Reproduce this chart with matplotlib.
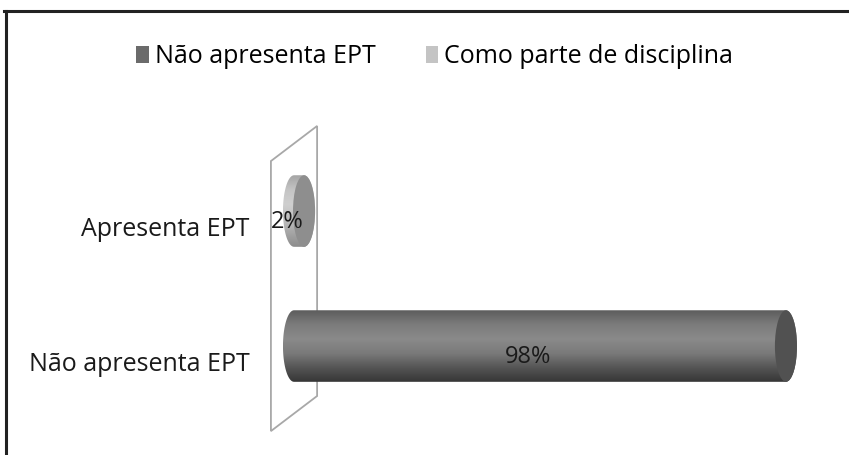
import matplotlib
matplotlib.use("Agg")
import matplotlib.pyplot as plt
import numpy as np
from matplotlib.path import Path
from matplotlib.patches import PathPatch, Ellipse, Polygon, Patch
from matplotlib.colors import LinearSegmentedColormap
from matplotlib.lines import Line2D

plt.rcParams['font.family'] = ['Open Sans', 'DejaVu Sans']

# ---- data ----
categories = ["Não apresenta EPT", "Apresenta EPT"]
series_names = ["Não apresenta EPT", "Como parte de disciplina"]
nao_apresenta = [98, 0]
como_parte = [0, 2]
series_values = [nao_apresenta, como_parte]
value_labels = ["98%", "2%"]

# ---- style ----
body_colors = [
    ["#5c5c5c", "#7c7c7c", "#8a8a8a", "#7a7a7a", "#555555", "#363636"],
    ["#a4a4a4", "#c4c4c4", "#cfcfcf", "#c0c0c0", "#a6a6a6", "#8c8c8c"],
]
end_colors = ["#515151", "#8e8e8e"]
legend_colors = ["#6b6b6b", "#c4c4c4"]
FS = 18

fig = plt.figure(figsize=(8.49, 4.55), dpi=100)
ax = fig.add_axes([0, 0, 1, 1])
ax.set_xlim(-58.57, 110.56)
ax.set_ylim(-0.807, 2.563)
ax.axis('off')

bar_h = 0.53     # in category units
cap_hw = 2.2     # half width of the cylinder caps, value units
depth_dx, depth_dy = 4.6, 0.13

# back wall (category axis plane)
lo, hi = -0.5, len(categories) - 0.5
wall = Polygon([(-depth_dx, lo - depth_dy), (-depth_dx, hi - depth_dy),
                (depth_dx, hi + depth_dy), (depth_dx, lo + depth_dy)],
               closed=True, fill=False, edgecolor="#a8a8a8", lw=1.3, zorder=1)
ax.add_patch(wall)

def cylinder(ax, v, y, colors, end_color):
    top, bot = y + bar_h / 2, y - bar_h / 2
    t = np.linspace(np.pi / 2, 3 * np.pi / 2, 40)
    left = np.column_stack([cap_hw * np.cos(t), y + bar_h / 2 * np.sin(t)])
    t2 = np.linspace(-np.pi / 2, np.pi / 2, 40)
    right = np.column_stack([v + cap_hw * np.cos(t2), y + bar_h / 2 * np.sin(t2)])
    verts = np.vstack([left, right, left[:1]])
    codes = [Path.MOVETO] + [Path.LINETO] * (len(verts) - 2) + [Path.CLOSEPOLY]
    path = Path(verts, codes)
    patch = PathPatch(path, facecolor='none', edgecolor='none', zorder=2)
    ax.add_patch(patch)
    cmap = LinearSegmentedColormap.from_list("g", colors[::-1])
    grad = np.linspace(0, 1, 256).reshape(-1, 1)
    im = ax.imshow(grad, cmap=cmap, aspect='auto', origin='lower',
                   extent=[-cap_hw, v + cap_hw, bot, top], zorder=2,
                   interpolation='bilinear')
    im.set_clip_path(patch)
    ax.add_patch(Ellipse((v, y), 2 * cap_hw, bar_h, facecolor=end_color,
                         edgecolor='none', zorder=3))

for s, vals in enumerate(series_values):
    for i, v in enumerate(vals):
        if v > 0:
            cylinder(ax, v, i, body_colors[s], end_colors[s])

# data labels
for i, cat in enumerate(categories):
    v = nao_apresenta[i] + como_parte[i]
    ax.text(v / 2 - 2.3, i - 0.08, value_labels[i], ha='center', va='center',
            fontsize=FS - 1, color="#1a1a1a", zorder=5)

# category labels
for i, cat in enumerate(categories):
    ax.text(-8.9, i - 0.14, cat, ha='right', va='center', fontsize=FS,
            color="#1a1a1a")

# legend
handles = [Patch(facecolor=c, edgecolor='none') for c in legend_colors]
fig.legend(handles, series_names, loc='center', bbox_to_anchor=(0.512, 0.875),
           ncol=2, frameon=False, fontsize=FS, handlelength=0.5,
           handleheight=0.62, handletextpad=0.25, columnspacing=2.0)

# outer frame (top and left)
fig.add_artist(Line2D([4 / 849, 1], [1 - 11 / 455] * 2, transform=fig.transFigure,
                      color="#222222", lw=2.2))
fig.add_artist(Line2D([5.5 / 849] * 2, [0, 1 - 11 / 455], transform=fig.transFigure,
                      color="#222222", lw=2.2))

fig.savefig("out.png", dpi=100, facecolor="white")
